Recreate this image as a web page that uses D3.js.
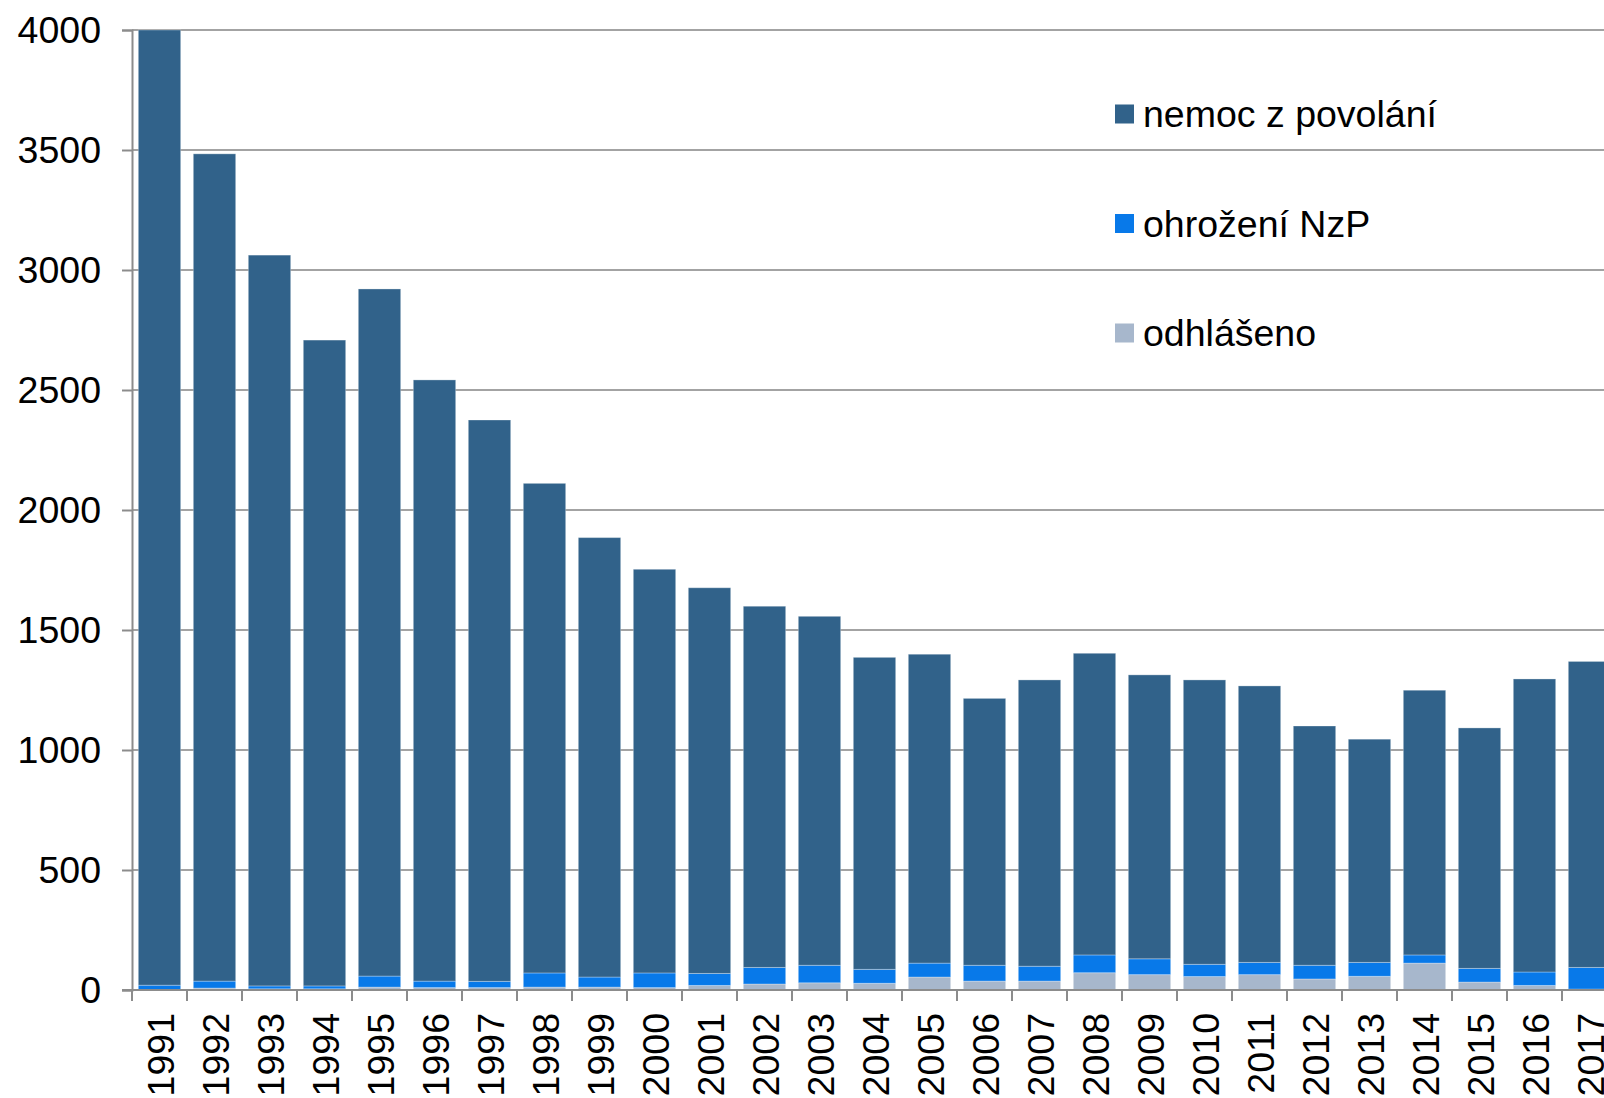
<!DOCTYPE html>
<html>
<head>
<meta charset="utf-8">
<script src="https://cdn.jsdelivr.net/npm/d3@7"></script>
<style>
  html, body { margin: 0; padding: 0; background: #fff; overflow: hidden; }
  svg { display: block; font-family: "Liberation Sans", Arial, sans-serif; }
</style>
</head>
<body>
<svg id="chart" width="1604" height="1098"></svg>
<script>
// categories
const years = d3.range(1991, 2018).map(String);

// series values (stacked from bottom: odhlaseno, ohrozeni, nemoc)
const odhlaseno = [2, 8, 5, 5, 12, 10, 10, 12, 12, 10, 19, 25, 30, 28, 54, 37, 37, 72, 64, 56, 64, 46, 57, 112, 33, 19, 4];
const ohrozeni = [18, 29, 12, 12, 46, 27, 26, 59, 42, 61, 50, 69, 73, 58, 58, 66, 62, 74, 66, 51, 51, 57, 58, 34, 57, 56, 90];
const nemoc = [3980, 3447, 3045, 2691, 2863, 2505, 2339, 2040, 1831, 1682, 1607, 1505, 1454, 1300, 1287, 1112, 1193, 1257, 1183, 1185, 1152, 997, 930, 1103, 1002, 1221, 1275];

const seriesNames = ['odhlášeno', 'ohrožení NzP', 'nemoc z povolání'];
const seriesColors = ['#a7b7cc', '#0879e9', '#31628a'];
const yTicks = [0, 500, 1000, 1500, 2000, 2500, 3000, 3500, 4000];

const svg = d3.select('#chart');
const W = 1604;
const FS = '37.5px';

// table built from the arrays
const rows = years.map((yr, i) => ({
    year: yr,
    'odhlášeno': odhlaseno[i],
    'ohrožení NzP': ohrozeni[i],
    'nemoc z povolání': nemoc[i]
}));

const x = d3.scaleBand()
    .domain(years)
    .range([132, 132 + 55 * years.length])
    .paddingInner(0.23)
    .paddingOuter(0.115);

const y = d3.scaleLinear().domain([0, 4000]).range([990, 30]);

// gridlines
svg.append('g')
    .selectAll('line')
    .data(yTicks)
    .join('line')
    .attr('x1', 132)
    .attr('x2', W)
    .attr('y1', d => y(d))
    .attr('y2', d => y(d))
    .attr('stroke', '#a3a3a3')
    .attr('stroke-width', 2);

// stacked bars
const stacked = d3.stack().keys(seriesNames)(rows);
const color = d3.scaleOrdinal().domain(seriesNames).range(seriesColors);

svg.append('g')
    .selectAll('g')
    .data(stacked)
    .join('g')
    .attr('fill', d => color(d.key))
    .selectAll('rect')
    .data(d => d)
    .join('rect')
    .attr('x', d => x(d.data.year))
    .attr('y', d => y(d[1]))
    .attr('width', x.bandwidth())
    .attr('height', d => y(d[0]) - y(d[1]))
    .attr('stroke', '#ffffff')
    .attr('stroke-opacity', 0.3)
    .attr('stroke-width', 1);

// y axis
const yAxis = svg.append('g')
    .attr('transform', 'translate(132,0)')
    .call(d3.axisLeft(y).tickValues(yTicks).tickSize(10).tickPadding(21).tickFormat(d3.format('d')));
yAxis.select('.domain').attr('stroke', '#8c8c8c').attr('stroke-width', 2);
yAxis.selectAll('.tick line').attr('stroke', '#8c8c8c').attr('stroke-width', 2);
yAxis.selectAll('.tick text')
    .attr('fill', '#000')
    .style('font-size', FS)
    .style('font-family', '"Liberation Sans", Arial, sans-serif');

// x axis: baseline + ticks between categories
const xg = svg.append('g');
xg.append('line')
    .attr('x1', 122).attr('x2', W)
    .attr('y1', y(0)).attr('y2', y(0))
    .attr('stroke', '#8c8c8c').attr('stroke-width', 2);

const half = (x.step() - x.bandwidth()) / 2;
const tickPos = years.map(yr => x(yr) - half).concat([x(years[years.length - 1]) + x.bandwidth() + half]);
xg.selectAll('line.tk')
    .data(tickPos)
    .join('line')
    .attr('class', 'tk')
    .attr('x1', d => d).attr('x2', d => d)
    .attr('y1', y(0)).attr('y2', y(0) + 11)
    .attr('stroke', '#8c8c8c').attr('stroke-width', 2);

xg.selectAll('text')
    .data(years)
    .join('text')
    .attr('transform', d => `translate(${x(d) + x.bandwidth() / 2 + 1},${y(0) + 23}) rotate(-90)`)
    .attr('text-anchor', 'end')
    .attr('dy', '0.35em')
    .style('font-size', FS)
    .text(d => d);

// legend
const legendItems = seriesNames.slice().reverse();
const lg = svg.append('g')
    .selectAll('g')
    .data(legendItems)
    .join('g')
    .attr('transform', (d, i) => `translate(1115,${114 + i * 109.5})`);
lg.append('rect')
    .attr('x', 0).attr('y', -9.5)
    .attr('width', 19).attr('height', 19)
    .attr('fill', d => color(d));
lg.append('text')
    .attr('x', 28)
    .attr('dy', '0.35em')
    .style('font-size', FS)
    .text(d => d);
</script>
</body>
</html>
